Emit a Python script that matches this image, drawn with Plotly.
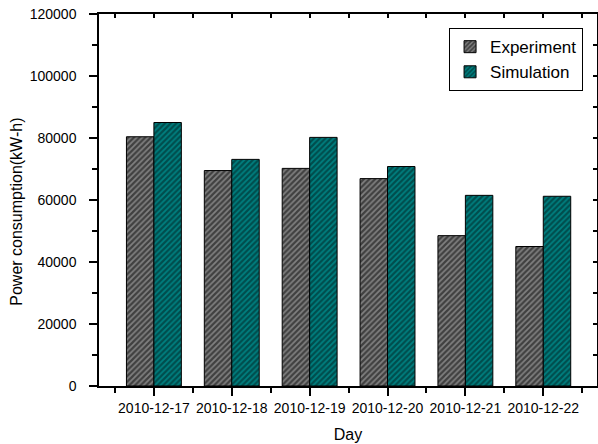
import plotly.graph_objects as go

days = ["2010-12-17", "2010-12-18", "2010-12-19", "2010-12-20", "2010-12-21", "2010-12-22"]
experiment = [80400, 69500, 70200, 66900, 48500, 45000]
simulation = [85000, 73100, 80200, 70800, 61500, 61200]
y_ticks = [0, 20000, 40000, 60000, 80000, 100000, 120000]
y_tick_text = ["0", "20000", "40000", "60000", "80000", "100000", "120000"]

font_family = "Liberation Sans, Arial, sans-serif"
x_range = [-0.705, 5.69]
y_range = [0, 120000]

fig = go.Figure()
fig.add_trace(go.Bar(
    x=list(range(len(days))), y=experiment, name="Experiment",
    marker=dict(color="#808080", line=dict(color="#000000", width=1),
                pattern=dict(shape="/", fgcolor="#000000", bgcolor="#808080",
                             size=4, solidity=0.55)),
))
fig.add_trace(go.Bar(
    x=list(range(len(days))), y=simulation, name="Simulation",
    marker=dict(color="#008080", line=dict(color="#000000", width=1),
                pattern=dict(shape="/", fgcolor="#001a1a", bgcolor="#008080",
                             size=4, solidity=0.55)),
))

axis_common = dict(showgrid=False, zeroline=False, showline=True,
                   linecolor="black", linewidth=1.5, tickcolor="black",
                   tickfont=dict(family=font_family, size=14, color="black"))

fig.update_layout(
    width=598, height=444,
    margin=dict(l=99, r=1, t=14, b=58),
    paper_bgcolor="white", plot_bgcolor="white",
    barmode="group", bargap=0.295, bargroupgap=0,
    font=dict(family=font_family, color="black"),
    xaxis=dict(
        **axis_common, range=x_range,
        tickmode="array", tickvals=list(range(len(days))), ticktext=days,
        ticks="outside", ticklen=8, tickwidth=1.5,
        minor=dict(tickmode="array", tickvals=[i - 0.5 for i in range(len(days) + 1)],
                   ticks="outside", ticklen=5, tickwidth=1.5, tickcolor="black"),
        title=dict(text="Day", font=dict(family=font_family, size=16), standoff=14),
    ),
    yaxis=dict(
        **axis_common, range=y_range,
        tickmode="array", tickvals=y_ticks, ticktext=y_tick_text,
        ticks="outside", ticklen=8, tickwidth=1.5, ticklabelstandoff=10,
        minor=dict(tickmode="array", tickvals=[t + 10000 for t in y_ticks[:-1]],
                   ticks="outside", ticklen=5, tickwidth=1.5, tickcolor="black"),
    ),
    # mirrored frame on top and right, with inward ticks
    xaxis2=dict(overlaying="x", side="top", range=x_range, showgrid=False, zeroline=False,
                showline=True, linecolor="black", linewidth=1.5, showticklabels=False,
                tickmode="array", tickvals=[i * 0.5 - 0.5 for i in range(2 * len(days) + 1)],
                ticks="inside", ticklen=4, tickwidth=1.5, tickcolor="black"),
    yaxis2=dict(overlaying="y", side="right", range=y_range, showgrid=False, zeroline=False,
                showline=True, linecolor="black", linewidth=1.5, showticklabels=False,
                tickmode="array", tickvals=list(range(0, 120001, 10000)),
                ticks="inside", ticklen=4, tickwidth=1.5, tickcolor="black"),
    legend=dict(x=0.972, y=0.962, xanchor="right", yanchor="top",
                bordercolor="black", borderwidth=1, bgcolor="white",
                font=dict(family=font_family, size=17, color="black"),
                tracegroupgap=0, itemwidth=30),
)

# y-axis title placed as a rotated annotation
fig.add_annotation(text="Power consumption(kW-h)", textangle=-90,
                   xref="paper", yref="paper", x=-0.165, y=0.468,
                   xanchor="center", yanchor="middle", showarrow=False,
                   font=dict(family=font_family, size=16, color="black"))

# invisible trace to activate the mirrored axes
fig.add_trace(go.Scatter(x=[0], y=[0], xaxis="x2", yaxis="y2", mode="markers",
                         marker=dict(opacity=0), showlegend=False, hoverinfo="skip"))

fig.write_html("out.html")
